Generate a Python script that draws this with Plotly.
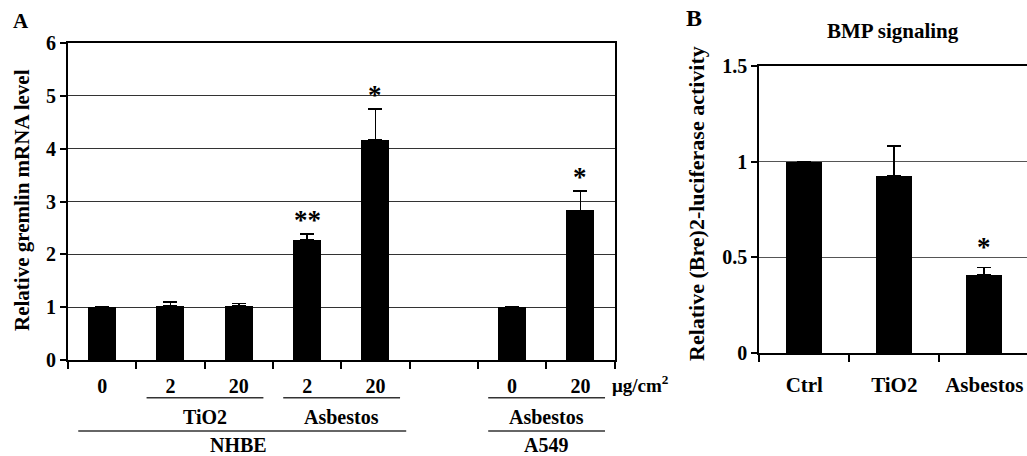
import plotly.graph_objects as go

# ---------------- data ----------------
# Panel A: relative gremlin mRNA level
a_doses = ["0", "2", "20", "2", "20", "", "0", "20"]
a_values = [1.00, 1.03, 1.03, 2.28, 4.17, None, 1.00, 2.83]
a_errors = [0.00, 0.07, 0.04, 0.10, 0.58, None, 0.00, 0.37]
a_stars = ["", "", "", "**", "*", "", "", "*"]
a_unit = "μg/cm<sup>2</sup>"
# group brackets under the axis: (label, first index, last index)
a_groups_row1 = [("TiO2", 1, 2), ("Asbestos", 3, 4), ("Asbestos", 6, 7)]
a_groups_row2 = [("NHBE", 0, 4), ("A549", 6, 7)]
a_ytitle = "Relative gremlin mRNA level"

# Panel B: BMP signaling
b_categories = ["Ctrl", "TiO2", "Asbestos"]
b_values = [1.00, 0.924, 0.408]
b_errors = [0.00, 0.158, 0.040]
b_stars = ["", "", "*"]
b_title = "BMP signaling"
b_ytitle = "Relative (Bre)2-luciferase activity"

# ---------------- layout helpers ----------------
W, H = 1027, 456
FONT = "Liberation Serif"


def px(x):
    return x / W


def py(y):
    return 1 - y / H


a_x = list(range(len(a_doses)))
b_x = list(range(len(b_categories)))

fig = go.Figure()

fig.add_trace(go.Bar(
    x=a_x, y=a_values, width=0.41,
    marker=dict(color="black", line=dict(width=0)),
    error_y=dict(type="data", array=a_errors, arrayminus=[0] * len(a_errors),
                 symmetric=False, color="black", thickness=1.6, width=7),
    xaxis="x", yaxis="y", showlegend=False,
))

fig.add_trace(go.Bar(
    x=b_x, y=b_values, width=0.40,
    marker=dict(color="black", line=dict(width=0)),
    error_y=dict(type="data", array=b_errors, arrayminus=[0] * len(b_errors),
                 symmetric=False, color="black", thickness=1.6, width=7),
    xaxis="x2", yaxis="y2", showlegend=False,
))

bold = dict(family=FONT, color="black", weight="bold")

a_tickvals = [i for i, d in zip(a_x, a_doses) if d != ""]
a_ticktext = [d for d in a_doses if d != ""]

fig.update_layout(
    width=W, height=H,
    margin=dict(l=0, r=0, t=0, b=0, autoexpand=False),
    paper_bgcolor="white", plot_bgcolor="white",
    font=dict(family=FONT),
    bargap=0,
    xaxis=dict(
        domain=[px(68), px(614.6)], range=[-0.5, len(a_doses) - 0.5],
        anchor="y", showline=True, linecolor="black", linewidth=2, mirror=True,
        showgrid=False, zeroline=False, automargin=False,
        tickvals=a_tickvals, ticktext=a_ticktext, ticks="",
        tickfont=dict(size=20, **bold), ticklabelstandoff=7,
        minor=dict(tickvals=[i - 0.5 for i in range(len(a_doses) + 1)],
                   ticks="outside", ticklen=7, tickwidth=1.5, tickcolor="black",
                   showgrid=False),
    ),
    yaxis=dict(
        domain=[py(360), py(43)], range=[0, 6], dtick=1,
        anchor="x", showline=True, linecolor="black", linewidth=2, mirror=True,
        showgrid=True, gridcolor="#333", gridwidth=1, zeroline=False,
        automargin=False,
        ticks="outside", ticklen=6, tickwidth=1.5, tickcolor="black",
        tickfont=dict(size=20, **bold),
    ),
    xaxis2=dict(
        domain=[px(759.3), 1.0], range=[-0.5, -0.5 + (W - 759.3) / 90.0],
        anchor="y2", showline=True, linecolor="black", linewidth=2, mirror=True,
        showgrid=False, zeroline=False, automargin=False,
        tickvals=b_x, ticktext=b_categories, ticks="",
        tickfont=dict(size=21, **bold), ticklabelstandoff=11,
        minor=dict(tickvals=[i - 0.5 for i in range(len(b_categories))],
                   ticks="outside", ticklen=7, tickwidth=1.5, tickcolor="black",
                   showgrid=False),
    ),
    yaxis2=dict(
        domain=[py(353.3), py(65.7)], range=[0, 1.5], dtick=0.5,
        anchor="x2", showline=True, linecolor="black", linewidth=2,
        showgrid=True, gridcolor="#555", gridwidth=1, zeroline=False,
        automargin=False,
        ticks="outside", ticklen=6, tickwidth=1.5, tickcolor="black",
        tickfont=dict(size=20, **bold),
    ),
)

ann = []
# significance stars
for i, (v, e, s) in enumerate(zip(a_values, a_errors, a_stars)):
    if s:
        ann.append(dict(x=i, y=v + e, xref="x", yref="y", text=s, showarrow=False,
                        yanchor="bottom", yshift=-3, font=dict(size=27, **bold)))
for i, (v, e, s) in enumerate(zip(b_values, b_errors, b_stars)):
    if s:
        ann.append(dict(x=i, y=v + e, xref="x2", yref="y2", text=s, showarrow=False,
                        yanchor="bottom", yshift=3, font=dict(size=27, **bold)))

# unit label
ann.append(dict(x=px(610), y=py(384), xref="paper", yref="paper", text=a_unit,
                showarrow=False, xanchor="left", yanchor="middle",
                font=dict(size=19, **bold)))

shapes = []
for rows, line_y, text_y in [(a_groups_row1, 397.7, 417), (a_groups_row2, 431, 445)]:
    for label, i0, i1 in rows:
        right = 0.45 if label == "NHBE" else 0.36
        shapes.append(dict(type="line", xref="x", yref="paper",
                           x0=i0 - 0.35, x1=i1 + right, y0=py(line_y), y1=py(line_y),
                           line=dict(color="#333", width=1.5)))
        ann.append(dict(x=(i0 + i1) / 2, y=py(text_y), xref="x", yref="paper",
                        text=label, showarrow=False, xanchor="center", yanchor="middle",
                        font=dict(size=20, **bold)))

# axis titles
ann.append(dict(x=px(22), y=py(200), xref="paper", yref="paper", text=a_ytitle,
                textangle=-90, showarrow=False, xanchor="center", yanchor="middle",
                font=dict(size=21, **bold)))
ann.append(dict(x=px(696), y=py(204), xref="paper", yref="paper", text=b_ytitle,
                textangle=-90, showarrow=False, xanchor="center", yanchor="middle",
                font=dict(size=22, **bold)))
# panel title B
ann.append(dict(x=px(893), y=py(31), xref="paper", yref="paper", text=b_title,
                showarrow=False, xanchor="center", yanchor="middle",
                font=dict(size=21, **bold)))
# panel letters
ann.append(dict(x=px(21), y=py(21), xref="paper", yref="paper", text="A",
                showarrow=False, xanchor="center", yanchor="middle",
                font=dict(size=21, **bold)))
ann.append(dict(x=px(694), y=py(18), xref="paper", yref="paper", text="B",
                showarrow=False, xanchor="center", yanchor="middle",
                font=dict(size=24, **bold)))

fig.update_layout(annotations=ann, shapes=shapes)

fig.write_html("out.html", config={"displayModeBar": False},
               post_script="document.body.style.margin='0';")
